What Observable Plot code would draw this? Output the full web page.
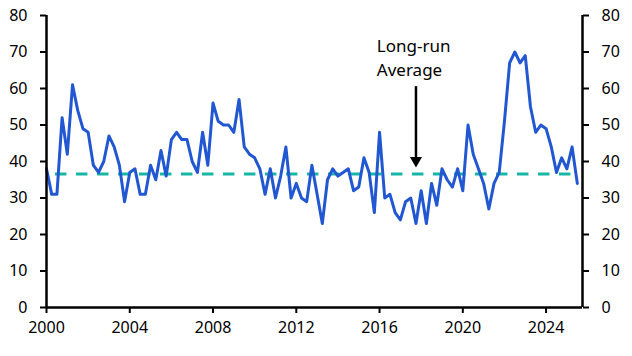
<!DOCTYPE html>
<html>
<head>
<meta charset="utf-8">
<script src="https://cdn.jsdelivr.net/npm/d3@7"></script>
<script src="https://cdn.jsdelivr.net/npm/@observablehq/plot@0.6"></script>
<style>
  html, body { margin: 0; padding: 0; background: #fff; }
  #chart svg { display: block; }
</style>
</head>
<body>
<div id="chart"></div>
<script>
// Quarterly series, first quarter of 2000 onward
const startYear = 2000;
const values = [
  38, 31, 31, 52,
  42, 61, 54, 49,
  48, 39, 37, 40,
  47, 44, 39, 29,
  37, 38, 31, 31,
  39, 35, 43, 36,
  46, 48, 46, 46,
  40, 37, 48, 39,
  56, 51, 50, 50,
  48, 57, 44, 42,
  41, 38, 31, 38,
  30, 36, 44, 30,
  34, 30, 29, 39,
  31, 23, 35, 38,
  36, 37, 38, 32,
  33, 41, 37, 26,
  48, 30, 31, 26,
  24, 29, 30, 23,
  32, 23, 34, 28,
  38, 35, 33, 38,
  32, 50, 42, 38,
  34, 27, 34, 37,
  51, 67, 70, 67,
  69, 55, 48, 50,
  49, 44, 37, 41,
  38, 44, 34
];
const longRunAverage = 36.6;
const xTicks = [2000, 2004, 2008, 2012, 2016, 2020, 2024];
const yTicks = [0, 10, 20, 30, 40, 50, 60, 70, 80];
const annotationLines = ["Long-run", "Average"];

const data = values.map((v, i) => ({ t: startYear + i / 4, v }));

const axisStyle = { tickSize: 6, label: null, strokeWidth: 2, fontSize: 16 };

const chart = Plot.plot({
  width: 632,
  height: 356,
  marginLeft: 46,
  marginRight: 50,
  marginTop: 15,
  marginBottom: 49,
  style: { fontFamily: "'Noto Sans', sans-serif", fontSize: "16px", color: "#000", background: "#fff" },
  x: { domain: [2000, 2025.75] },
  y: { domain: [0, 80] },
  marks: [
    Plot.axisX({ ...axisStyle, ticks: xTicks, tickFormat: d3.format("d"), tickPadding: 8 }),
    Plot.axisY({ ...axisStyle, anchor: "left", ticks: yTicks, tickPadding: 13 }),
    Plot.axisY({ ...axisStyle, anchor: "right", ticks: yTicks, tickPadding: 13 }),
    Plot.ruleY([longRunAverage], { x1: 2000.43, x2: 2025.24, stroke: "#17b6a6", strokeWidth: 3, strokeDasharray: "11.5,9.5" }),
    Plot.lineY(data, { x: "t", y: "v", stroke: "#2257d2", strokeWidth: 3, strokeLinejoin: "round" }),
    Plot.ruleX([2000, 2025.75], { stroke: "#000", strokeWidth: 2.5 }),
    Plot.ruleY([0], { stroke: "#000", strokeWidth: 2.5 }),
    Plot.ruleX([2017.75], { y1: 60.5, y2: 41, stroke: "#000", strokeWidth: 2.5 }),
    Plot.dot([2017.75], { x: d => d, y: 40.3, symbol: "triangle", rotate: 180, r: 4.5, fill: "#000", stroke: null }),
    Plot.text([annotationLines.join("\n")], { x: 2015.87, y: 68.9, textAnchor: "start", lineAnchor: "middle", fontSize: 17, lineHeight: 1.4, fill: "#000" })
  ]
});

document.getElementById("chart").append(chart);
</script>
</body>
</html>
